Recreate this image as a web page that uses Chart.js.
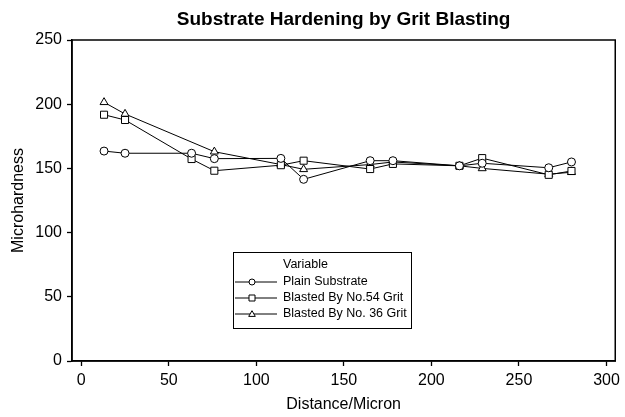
<!DOCTYPE html>
<html>
<head>
<meta charset="utf-8">
<script src="https://cdn.jsdelivr.net/npm/chart.js@4.4.1/dist/chart.umd.min.js"></script>
<style>
    html, body { margin: 0; padding: 0; background: #fff; }
    #wrap { width: 625px; height: 417px; }
</style>
</head>
<body>
<div id="wrap"><canvas id="chart" width="625" height="417"></canvas></div>
<script>
// values
const distance = [13, 25, 63, 76, 114, 127, 165, 178, 216, 229, 267, 280];
const plainSubstrate = [163.5, 161.8, 161.8, 157.6, 157.8, 141.5, 156, 156, 152, 154, 150.5, 155];
const grit54 = [191.8, 187.7, 157.3, 148.2, 152.5, 156, 149.5, 153.5, 152, 158, 145, 148];
const distance36 = [13, 25, 76, 114, 127, 165, 178, 216, 229, 267, 280];
const grit36 = [201.5, 192.4, 163, 153, 149.3, 153, 155, 152, 150, 145.5, 147];
const xTicks = [0, 50, 100, 150, 200, 250, 300];
const yTicks = [0, 50, 100, 150, 200, 250];
const seriesNames = ["Plain Substrate", "Blasted By No.54 Grit", "Blasted By No. 36 Grit"];

const FONT = "'Liberation Sans', Arial, sans-serif";

const toPoints = (xs, ys) => xs.map((x, i) => ({ x: x, y: ys[i] }));

function makeSet(label, pts, style, radius) {
    return {
        label: label,
        data: pts,
        borderColor: '#000',
        borderWidth: 1,
        pointStyle: style,
        pointRadius: radius,
        pointBorderWidth: 1,
        pointBorderColor: '#000',
        pointBackgroundColor: '#fff',
        tension: 0
    };
}

// draws the closed box round the plot
const framePlugin = {
    id: 'frame',
    beforeDatasetsDraw(chart) {
        const a = chart.chartArea;
        const ctx = chart.ctx;
        ctx.save();
        ctx.strokeStyle = '#000';
        ctx.lineWidth = 1.5;
        ctx.strokeRect(a.left, a.top, a.right - a.left, a.bottom - a.top);
        ctx.restore();
    }
};

function marker(ctx, style, x, y, r) {
    ctx.beginPath();
    if (style === 'circle') {
        ctx.arc(x, y, r, 0, Math.PI * 2);
    } else if (style === 'rect') {
        ctx.rect(x - r, y - r, r * 2, r * 2);
    } else {
        ctx.moveTo(x, y - r * 1.1);
        ctx.lineTo(x + r * 1.1, y + r * 0.8);
        ctx.lineTo(x - r * 1.1, y + r * 0.8);
        ctx.closePath();
    }
    ctx.fillStyle = '#fff';
    ctx.fill();
    ctx.stroke();
}

// boxed legend sitting inside the plot
const boxLegend = {
    id: 'boxLegend',
    afterDraw(chart) {
        const ctx = chart.ctx;
        const left = 233, top = 252, w = 178, h = 76;
        ctx.save();
        ctx.fillStyle = '#fff';
        ctx.fillRect(left, top, w, h);
        ctx.strokeStyle = '#000';
        ctx.lineWidth = 1;
        ctx.strokeRect(left + 0.5, top + 0.5, w, h);
        ctx.font = '12.5px ' + FONT;
        ctx.textBaseline = 'middle';
        ctx.fillStyle = '#000';
        ctx.fillText('Variable', 283, 265);
        chart.data.datasets.forEach((ds, i) => {
            const y = 282 + i * 16;
            ctx.beginPath();
            ctx.moveTo(235, y);
            ctx.lineTo(277, y);
            ctx.stroke();
            marker(ctx, ds.pointStyle, 252, y, 3);
            ctx.fillStyle = '#000';
            ctx.fillText(ds.label, 283, y);
        });
        ctx.restore();
    }
};

const tickGrid = {
    display: true,
    drawOnChartArea: false,
    drawTicks: true,
    tickLength: 5,
    tickWidth: 1.3,
    color: '#000'
};

new Chart(document.getElementById('chart'), {
    type: 'line',
    data: {
        datasets: [
            makeSet(seriesNames[0], toPoints(distance, plainSubstrate), 'circle', 4),
            makeSet(seriesNames[1], toPoints(distance, grit54), 'rect', 5),
            makeSet(seriesNames[2], toPoints(distance36, grit36), 'triangle', 4.6)
        ]
    },
    options: {
        responsive: false,
        animation: false,
        layout: { padding: { right: 6, left: 0, top: 0, bottom: 0 } },
        plugins: {
            legend: { display: false },
            tooltip: { enabled: false },
            title: {
                display: true,
                fullSize: false,
                text: 'Substrate Hardening by Grit Blasting',
                color: '#000',
                font: { family: FONT, size: 19, weight: 'bold' },
                padding: { top: 8.5, bottom: 8.7 }
            }
        },
        scales: {
            x: {
                type: 'linear',
                min: -5.3,
                max: 305,
                afterBuildTicks: (s) => { s.ticks = xTicks.map(v => ({ value: v })); },
                afterFit: (s) => { s.height = 56; },
                grid: tickGrid,
                border: { display: true, color: '#000', width: 1.5 },
                ticks: { color: '#000', padding: 5, maxRotation: 0, font: { family: FONT, size: 16 } },
                title: {
                    display: true,
                    text: 'Distance/Micron',
                    color: '#000',
                    font: { family: FONT, size: 16 },
                    padding: { top: 0, bottom: 3 }
                }
            },
            y: {
                min: 0,
                max: 250,
                afterBuildTicks: (s) => { s.ticks = yTicks.map(v => ({ value: v })); },
                afterFit: (s) => { s.width = 72; },
                grid: tickGrid,
                border: { display: true, color: '#000', width: 1.5 },
                ticks: { color: '#000', padding: 5, font: { family: FONT, size: 16 } },
                title: {
                    display: true,
                    text: 'Microhardness',
                    color: '#000',
                    font: { family: FONT, size: 16 },
                    padding: { top: 9, bottom: 0 }
                }
            }
        }
    },
    plugins: [framePlugin, boxLegend]
});
</script>
</body>
</html>
